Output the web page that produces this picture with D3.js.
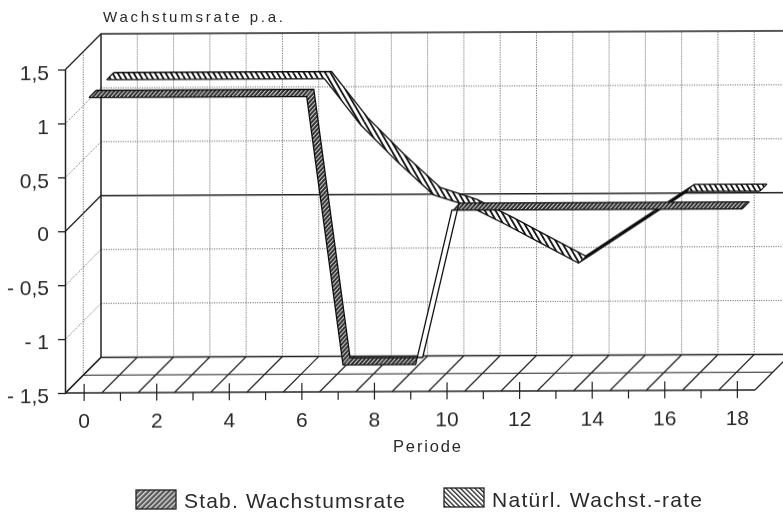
<!DOCTYPE html>
<html><head><meta charset="utf-8">
<script src="https://cdn.jsdelivr.net/npm/d3@7"></script>
<style>
html,body{margin:0;padding:0;background:#fff}
svg{display:block}
text{font-family:"Liberation Sans",Arial,sans-serif;fill:#2a2a2a}
</style></head><body><div id="c"></div>
<script>
const periods = d3.range(0, 19);
const evenTicks = [0,2,4,6,8,10,12,14,16,18];
const oddTicks = [1,3,5,7,9,11,13,15,17];
const yTicks = [-1.5,-1,-0.5,0,0.5,1,1.5];
const yTickLabels = ["- 1,5","- 1","- 0,5","0","0,5","1","1,5"];
const stabValues = [1.19,1.19,1.19,1.19,1.19,1.19,1.19,-1.3,-1.3,-1.3,0.13,0.13,0.13,0.13,0.13,0.13,0.13,0.13,0.13];
const natValues = [1.19,1.19,1.19,1.19,1.19,1.19,1.19,0.76,0.42,0.11,0,-0.17,-0.35,-0.53,-0.31,-0.09,0.13,0.13,0.13];
const titleText = "Wachstumsrate p.a.";
const xTitle = "Periode";
const legendLabels = ["Stab. Wachstumsrate","Natürl. Wachst.-rate"];

const W=783,H=512,DX=35.5,DY=35.5;
const x=d3.scaleLinear().domain([-0.5,18.5]).range([65.5,755]);
const y=d3.scaleLinear().domain([-1.5,1.5]).range([393,69.5]);
const P=(i,v,d)=>[x(i)+d*DX,y(v)-d*DY];
const svg=d3.select("#c").append("svg").attr("width",W).attr("height",H);
const defs=svg.append("defs");
const blur=defs.append("filter").attr("id","scan").attr("x","-5%").attr("y","-5%").attr("width","110%").attr("height","110%");
blur.append("feGaussianBlur").attr("stdDeviation",0.35);

function pat(id,size,angle,bg,fg,w){
  const p=defs.append("pattern").attr("id",id).attr("patternUnits","userSpaceOnUse")
    .attr("width",size).attr("height",size).attr("patternTransform",`rotate(${angle})`);
  p.append("rect").attr("width",size).attr("height",size).attr("fill",bg);
  p.append("rect").attr("width",w).attr("height",size).attr("fill",fg);
}
pat("hStab",3.0,42,"#2e2e2e","#d8d8d8",1.0);
pat("hNat",4.6,-30,"#fff","#111",1.8);
pat("lStab",3.6,45,"#5a5a5a","#dcdcdc",1.3);
pat("lNat",3.4,-45,"#fff","#222",1.3);

const g=svg.append("g").attr("filter","url(#scan)")
  .attr("transform","translate(66,393) skewY(-0.25) translate(-66,-393)");
const line=(pts,o)=>{const l=g.append("path").attr("d",d3.line()(pts)).attr("fill","none")
  .attr("stroke",o.c||"#222").attr("stroke-width",o.w||1.2);
  if(o.dash) l.attr("stroke-dasharray",o.dash); return l;};
const grid={c:"#666",w:0.9,dash:"1.2 1.2"};
const x0=-0.5,x1=18.5;

yTicks.forEach(v=>{
  const solid=(v===0||v===1.5||v===-1.5);
  line([P(x0,v,0),P(x0,v,1),P(x1,v,1)],solid?{w:1.3}:grid);
});
d3.range(0,19).forEach(k=>line([P(x0+k+1,-1.5,1),P(x0+k+1,1.5,1)],grid));
line([P(x0,-1.5,0.5),P(x0,1.5,0.5)],grid);
line([P(x0,-1.5,1),P(x0,1.5,1)],{w:1.5});
line([P(x0,-1.5,0),P(x0,1.5,0)],{w:1.5});
d3.range(0,20).forEach(k=>line([P(x0+k,-1.5,0),P(x0+k,-1.5,1)],{w:1.2}));
line([P(x0,-1.5,0.5),P(x1,-1.5,0.5)],{w:1.2});
line([P(x0,-1.5,0),P(x1,-1.5,0)],{w:1.5});

const yAxis=d3.axisLeft(y).tickValues(yTicks).tickSize(8).tickPadding(9)
  .tickFormat(v=>yTickLabels[yTicks.indexOf(v)]);
const ya=g.append("g").attr("transform","translate(66,0)").call(yAxis);
ya.select(".domain").remove();
ya.selectAll("line").attr("stroke","#222").attr("stroke-width",1.3);
ya.selectAll("text").attr("font-size",21).attr("fill","#2a2a2a").attr("dy","0.46em");
const xa=g.append("g").attr("transform","translate(0,393)").call(
  d3.axisBottom(x).tickValues(evenTicks).tickSize(8).tickPadding(12).tickFormat(d=>d));
xa.select(".domain").remove();
xa.selectAll("line").attr("y1",-9).attr("stroke","#222").attr("stroke-width",1.2);
xa.selectAll("text").attr("font-size",21).attr("fill","#2a2a2a");
const xb=g.append("g").attr("transform","translate(0,393)").call(
  d3.axisBottom(x).tickValues(oddTicks).tickSize(8).tickFormat(""));
xb.select(".domain").remove();
xb.selectAll("line").attr("stroke","#222").attr("stroke-width",1.2);

function ribbon(values,d0,d1,fill,riseFill){
  periods.slice(0,-1).forEach(i=>{
    const a=values[i],b=values[i+1];
    const pts=[P(i,a,d0),P(i+1,b,d0),P(i+1,b,d1),P(i,a,d1)];
    g.append("path").attr("d",d3.line()(pts)+"Z").attr("fill",b>a?riseFill:fill);
  });
  const front=periods.map(i=>P(i,values[i],d0));
  const back=periods.map(i=>P(i,values[i],d1));
  line(front,{c:"#111",w:1.3});
  line(back,{c:"#111",w:1.3});
  const n=periods.length-1;
  line([front[0],back[0]],{c:"#111",w:1.2});
  line([front[n],back[n]],{c:"#111",w:1.2});
}
ribbon(natValues,0.65,0.85,"url(#hNat)","#111");
ribbon(stabValues,0.15,0.35,"url(#hStab)","#fff");

const label=(t,px,py,fs,len)=>{
  const e=svg.append("text").attr("x",px).attr("y",py).attr("font-size",fs).text(t);
  if(len) e.attr("textLength",len).attr("lengthAdjust","spacing");
  return e;};
label(titleText,103,22,15,180);
label(xTitle,393,452,16.5,68);
[[136,490,184,508,221],[444,488,492,507,210]].forEach((r,i)=>{
  svg.append("rect").attr("x",r[0]).attr("y",r[1]).attr("width",40).attr("height",19)
    .attr("fill",i?"url(#lNat)":"url(#lStab)").attr("stroke","#222").attr("stroke-width",1.3);
  label(legendLabels[i],r[2],r[3],21,r[4]);
});
</script></body></html>
